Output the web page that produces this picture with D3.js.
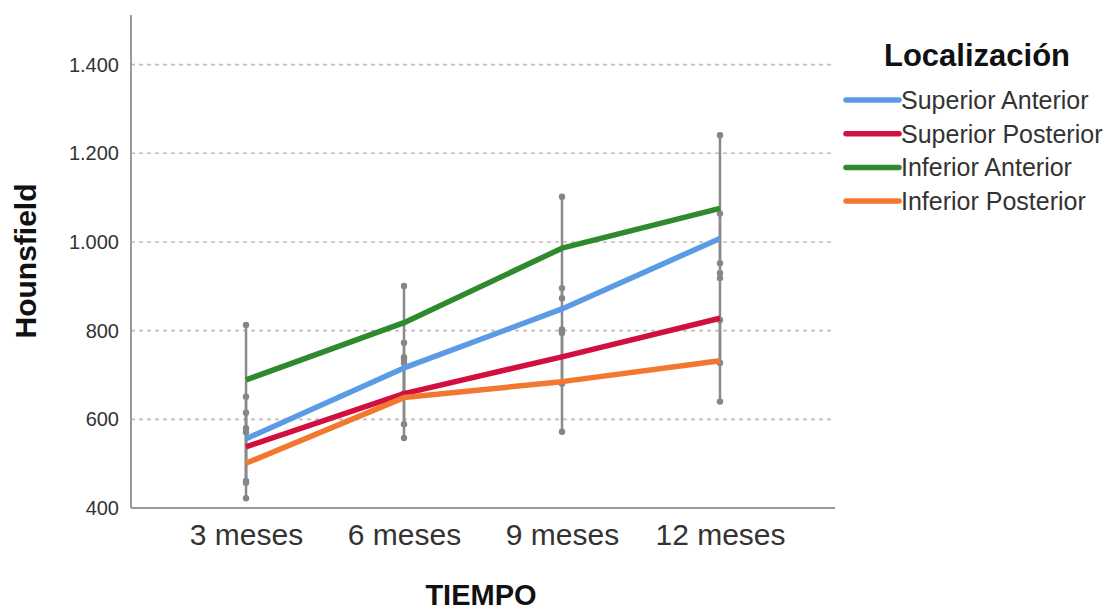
<!DOCTYPE html>
<html>
<head>
<meta charset="utf-8">
<script src="https://cdn.jsdelivr.net/npm/d3@7/dist/d3.min.js"></script>
<style>
  html, body { margin: 0; padding: 0; background: #fff; }
  svg { display: block; font-family: "Liberation Sans", Arial, sans-serif; }
</style>
</head>
<body>
<svg id="chart" width="1108" height="611"></svg>
<script>
// Time points on the x axis
const times = ["3 meses", "6 meses", "9 meses", "12 meses"];

// Mean Hounsfield values per location
const superiorAnterior  = [556, 716, 849, 1008];
const superiorPosterior = [538, 658, 741, 828];
const inferiorAnterior  = [689, 818, 986, 1076];
const inferiorPosterior = [501, 649, 685, 732];

// Error bar limits per location
const superiorAnteriorLo  = [457, 659, 802, 952];
const superiorAnteriorHi  = [651, 773, 896, 1064];
const superiorPosteriorLo = [461, 589, 680, 727];
const superiorPosteriorHi = [615, 727, 802, 930];
const inferiorAnteriorLo  = [571, 735, 873, 919];
const inferiorAnteriorHi  = [813, 901, 1102, 1241];
const inferiorPosteriorLo = [422, 558, 572, 640];
const inferiorPosteriorHi = [580, 740, 795, 824];

const yTicks = [400, 600, 800, 1000, 1200, 1400];
const gridTicks = [600, 800, 1000, 1200, 1400];

const seriesNames = ["Superior Anterior", "Superior Posterior", "Inferior Anterior", "Inferior Posterior"];
const seriesColors = ["#5b9be6", "#d2103f", "#2e8a2c", "#f2772f"];

const series = [
  { name: seriesNames[0], color: seriesColors[0], values: superiorAnterior,  lo: superiorAnteriorLo,  hi: superiorAnteriorHi },
  { name: seriesNames[1], color: seriesColors[1], values: superiorPosterior, lo: superiorPosteriorLo, hi: superiorPosteriorHi },
  { name: seriesNames[2], color: seriesColors[2], values: inferiorAnterior,  lo: inferiorAnteriorLo,  hi: inferiorAnteriorHi },
  { name: seriesNames[3], color: seriesColors[3], values: inferiorPosterior, lo: inferiorPosteriorLo, hi: inferiorPosteriorHi }
];

const svg = d3.select("#chart");

const plot = { left: 131, right: 835, top: 15, bottom: 508 };

const x = d3.scalePoint()
  .domain(times)
  .range([plot.left, plot.right])
  .padding(0.728);

const y = d3.scaleLinear()
  .domain([400, 1512])
  .range([plot.bottom, plot.top]);

// Dashed horizontal grid lines
svg.append("g")
  .selectAll("line")
  .data(gridTicks)
  .join("line")
  .attr("x1", plot.left)
  .attr("x2", plot.right)
  .attr("y1", d => y(d))
  .attr("y2", d => y(d))
  .attr("stroke", "#bdbdbd")
  .attr("stroke-width", 1.6)
  .attr("stroke-dasharray", "4,4");

// Y axis
const yAxis = svg.append("g")
  .attr("transform", `translate(${plot.left},0)`)
  .call(d3.axisLeft(y)
    .tickValues(yTicks)
    .tickSize(0)
    .tickPadding(12)
    .tickFormat(d => d3.format(",")(d).replace(/,/g, ".")));
yAxis.select(".domain").remove();
yAxis.selectAll("text")
  .attr("font-size", 20)
  .attr("fill", "#333")
  .attr("font-family", "Liberation Sans, Arial, sans-serif");

// X axis
const xAxis = svg.append("g")
  .attr("transform", `translate(0,${plot.bottom})`)
  .call(d3.axisBottom(x).tickSize(0).tickPadding(16));
xAxis.select(".domain").remove();
xAxis.selectAll("text")
  .attr("font-size", 30)
  .attr("fill", "#333")
  .attr("font-family", "Liberation Sans, Arial, sans-serif");

// Axis lines
svg.append("line")
  .attr("x1", plot.left).attr("x2", plot.left)
  .attr("y1", plot.top).attr("y2", plot.bottom)
  .attr("stroke", "#9a9a9a").attr("stroke-width", 2);
svg.append("line")
  .attr("x1", plot.left).attr("x2", plot.right)
  .attr("y1", plot.bottom).attr("y2", plot.bottom)
  .attr("stroke", "#9a9a9a").attr("stroke-width", 2);

// Error bars (gray), one per location and time point
const bars = svg.append("g");
series.forEach(s => {
  times.forEach((t, i) => {
    bars.append("line")
      .attr("x1", x(t)).attr("x2", x(t))
      .attr("y1", y(s.lo[i])).attr("y2", y(s.hi[i]))
      .attr("stroke", "#8a8a8a").attr("stroke-width", 2.5);
    [s.lo[i], s.hi[i]].forEach(v => {
      bars.append("circle")
        .attr("cx", x(t)).attr("cy", y(v))
        .attr("r", 3.2)
        .attr("fill", "#858585");
    });
  });
});

// Mean lines
const line = d3.line()
  .x((d, i) => x(times[i]))
  .y(d => y(d));

svg.append("g")
  .selectAll("path")
  .data(series)
  .join("path")
  .attr("d", d => line(d.values))
  .attr("fill", "none")
  .attr("stroke", d => d.color)
  .attr("stroke-width", 5.5)
  .attr("stroke-linejoin", "round");

// Axis titles
svg.append("text")
  .attr("x", 481)
  .attr("y", 605)
  .attr("text-anchor", "middle")
  .attr("font-size", 29)
  .attr("font-weight", "bold")
  .attr("fill", "#111")
  .text("TIEMPO");

svg.append("text")
  .attr("transform", "translate(36,261) rotate(-90)")
  .attr("text-anchor", "middle")
  .attr("font-size", 30)
  .attr("font-weight", "bold")
  .attr("fill", "#111")
  .text("Hounsfield");

// Legend
const legend = svg.append("g");
legend.append("text")
  .attr("x", 884)
  .attr("y", 66)
  .attr("font-size", 31)
  .attr("font-weight", "bold")
  .attr("fill", "#111")
  .text("Localización");

const rows = legend.selectAll("g.row")
  .data(series)
  .join("g")
  .attr("class", "row")
  .attr("transform", (d, i) => `translate(0,${100 + i * 33.7})`);
rows.append("line")
  .attr("x1", 846).attr("x2", 899)
  .attr("y1", 0).attr("y2", 0)
  .attr("stroke", d => d.color)
  .attr("stroke-width", 5.5)
  .attr("stroke-linecap", "round");
rows.append("text")
  .attr("x", 901)
  .attr("y", 0)
  .attr("dy", "0.36em")
  .attr("font-size", 25)
  .attr("fill", "#333")
  .text(d => d.name);
</script>
</body>
</html>
